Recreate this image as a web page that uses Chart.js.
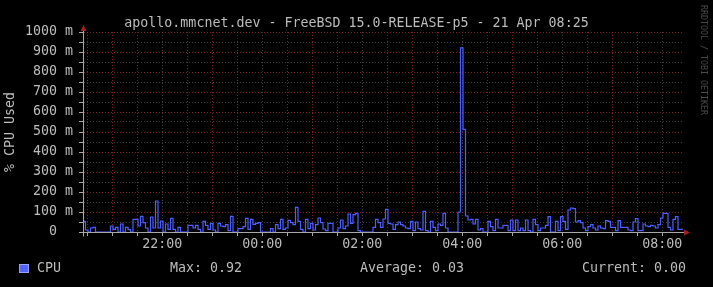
<!DOCTYPE html>
<html>
<head>
<meta charset="utf-8">
<script src="https://cdn.jsdelivr.net/npm/chart.js@4.4.1/dist/chart.umd.min.js"></script>
<style>
  html, body { margin: 0; padding: 0; background: #000; }
  #wrap {
    position: relative; width: 713px; height: 287px; overflow: hidden; background: #000;
    font-family: "DejaVu Sans Mono", monospace; font-size: 13.3px; color: #bcbcbc;
  }
  canvas { position: absolute; left: 0; top: 0; }
  .t { position: absolute; white-space: pre; line-height: 16px; }
  #swatch { position: absolute; left: 19px; top: 264px; width: 8px; height: 7px; background: #5262ff; border: 1px solid #9aa2ff; }
  #wm { position: absolute; left: 699px; top: 5px; writing-mode: vertical-rl; font-size: 8.3px; line-height: 10px; color: #4a4a4a; white-space: pre; }
</style>
</head>
<body>
<div id="wrap">
  <canvas id="cpuChart" width="713" height="287"></canvas>
  <div class="t" style="left:0;top:15px;width:713px;text-align:center">apollo.mmcnet.dev - FreeBSD 15.0-RELEASE-p5 - 21 Apr 08:25</div>
  <div class="t" style="left:10px;top:132px;transform:translate(-50%,-50%) rotate(-90deg)">% CPU Used</div>
  <div id="wm">RRDTOOL / TOBI OETIKER</div>
  <div id="swatch"></div>
  <div class="t" style="left:37px;top:260px">CPU</div>
  <div class="t" style="left:170px;top:260px">Max: 0.92</div>
  <div class="t" style="left:360px;top:260px">Average: 0.03</div>
  <div class="t" style="left:582px;top:260px">Current: 0.00</div>
</div>
<script>
// CPU 사용률 (단위: milli) - 20:25 부터 3분 간격, 240 샘플
const stepMinutes = 3;
const cpuMilli = [
  53, 10, 0, 20, 23, 0, 0, 0, 0, 0,
  0, 30, 13, 23, 0, 40, 0, 23, 12, 0,
  63, 63, 30, 78, 47, 20, 0, 75, 20, 155,
  20, 55, 0, 40, 13, 68, 13, 0, 23, 0,
  0, 0, 33, 33, 20, 33, 13, 0, 53, 33,
  13, 43, 10, 0, 43, 30, 27, 37, 7, 78,
  0, 0, 17, 17, 27, 68, 13, 63, 38, 43,
  47, 0, 0, 0, 0, 17, 0, 37, 17, 63,
  13, 20, 58, 47, 37, 123, 53, 13, 0, 63,
  17, 43, 10, 37, 70, 47, 15, 7, 43, 43,
  0, 0, 20, 60, 17, 30, 90, 43, 87, 93,
  7, 0, 0, 0, 0, 0, 23, 63, 47, 23,
  65, 113, 43, 40, 13, 37, 50, 37, 30, 20,
  17, 53, 7, 50, 17, 10, 103, 7, 0, 53,
  23, 7, 40, 33, 93, 20, 0, 0, 0, 0,
  100, 921, 513, 80, 60, 63, 40, 63, 10, 17,
  0, 0, 53, 27, 7, 63, 20, 20, 33, 33,
  7, 60, 7, 60, 7, 20, 7, 60, 7, 0,
  63, 37, 7, 20, 20, 33, 77, 0, 0, 53,
  7, 77, 53, 13, 110, 120, 117, 50, 57, 47,
  20, 7, 27, 37, 20, 10, 30, 20, 17, 57,
  53, 23, 23, 7, 57, 23, 23, 23, 10, 7,
  50, 67, 7, 7, 40, 30, 27, 33, 30, 20,
  37, 70, 93, 93, 23, 10, 63, 77, 13, 13
];

// x축: 20:25 기준 분 단위
const xLabelMinutes = [95, 215, 335, 455, 575, 695];
const xLabels = ["22:00", "00:00", "02:00", "04:00", "06:00", "08:00"];
const xMajorMinutes = [35, 155, 275, 395, 515, 635];
const xGridMinutes = [];
for (let m = 5; m < 720; m += 30) xGridMinutes.push(m);

// y축
const yMajor = [0, 100, 200, 300, 400, 500, 600, 700, 800, 900, 1000];
const yLabels = ["0  ", "100 m", "200 m", "300 m", "400 m", "500 m", "600 m", "700 m", "800 m", "900 m", "1000 m"];
const yGrid = [];
for (let v = 0; v <= 1000; v += 50) yGrid.push(v);

const MAJOR = "rgba(150,40,40,0.8)";
const MINOR = "rgba(120,120,120,0.5)";
const AXIS = "#a8a8a8";
const FONT = { family: "'DejaVu Sans Mono', monospace", size: 13.3 };

const points = cpuMilli.map((v, i) => ({ x: i * stepMinutes, y: v }));
points.push({ x: cpuMilli.length * stepMinutes, y: cpuMilli[cpuMilli.length - 1] });

const axisArrows = {
  id: "axisArrows",
  afterDraw(chart) {
    const { ctx, chartArea: a } = chart;
    const x0 = Math.round(a.left) + 0.5;
    const y0 = Math.round(a.bottom) + 0.5;
    ctx.save();
    ctx.strokeStyle = AXIS;
    ctx.lineWidth = 1;
    ctx.beginPath();
    ctx.moveTo(x0, y0 + 4);
    ctx.lineTo(x0, a.top - 4);
    ctx.moveTo(x0 - 4, y0);
    ctx.lineTo(a.right + 2, y0);
    ctx.stroke();
    ctx.fillStyle = "#a02020";
    ctx.beginPath();
    ctx.moveTo(x0 - 3, a.top - 1);
    ctx.lineTo(x0 + 3, a.top - 1);
    ctx.lineTo(x0, a.top - 7);
    ctx.closePath();
    ctx.fill();
    ctx.beginPath();
    ctx.moveTo(a.right + 1, y0 - 3);
    ctx.lineTo(a.right + 1, y0 + 3);
    ctx.lineTo(a.right + 7, y0);
    ctx.closePath();
    ctx.fill();
    ctx.restore();
  },
};

new Chart(document.getElementById("cpuChart"), {
  type: "line",
  data: {
    datasets: [
      {
        label: "CPU",
        data: points,
        borderColor: "#4f5fff",
        borderWidth: 1.2,
        pointRadius: 0,
        fill: false,
        stepped: "before",
      },
    ],
  },
  options: {
    responsive: false,
    animation: false,
    devicePixelRatio: 1,
    layout: { padding: { top: 32, right: 30, bottom: 35, left: 0 } },
    plugins: { legend: { display: false }, tooltip: { enabled: false } },
    scales: {
      x: {
        type: "linear",
        min: 0,
        max: 720,
        afterBuildTicks: (s) => { s.ticks = xGridMinutes.map((v) => ({ value: v })); },
        afterFit: (s) => { s.height = 20; },
        ticks: {
          autoSkip: false,
          maxRotation: 0,
          padding: 1,
          color: "#bcbcbc",
          font: FONT,
          callback: (v) => {
            const k = xLabelMinutes.indexOf(v);
            return k >= 0 ? xLabels[k] : "";
          },
        },
        grid: {
          color: (c) => (xMajorMinutes.includes(c.tick && c.tick.value) ? MAJOR : MINOR),
          tickColor: AXIS,
          tickLength: 4,
        },
        border: { display: true, color: AXIS, dash: [1, 2] },
      },
      y: {
        min: 0,
        max: 1000,
        afterBuildTicks: (s) => { s.ticks = yGrid.map((v) => ({ value: v })); },
        afterFit: (s) => { s.width = 83; },
        ticks: {
          autoSkip: false,
          padding: 6,
          color: "#bcbcbc",
          font: FONT,
          callback: (v) => {
            const k = yMajor.indexOf(v);
            return k >= 0 ? yLabels[k] : "";
          },
        },
        grid: {
          color: (c) => {
            const v = c.tick && c.tick.value;
            if (v === 0) return "rgba(0,0,0,0)";
            return yMajor.includes(v) ? MAJOR : MINOR;
          },
          tickColor: AXIS,
          tickLength: 4,
        },
        border: { display: true, color: AXIS, dash: [1, 2] },
      },
    },
  },
  plugins: [axisArrows],
});
</script>
</body>
</html>
